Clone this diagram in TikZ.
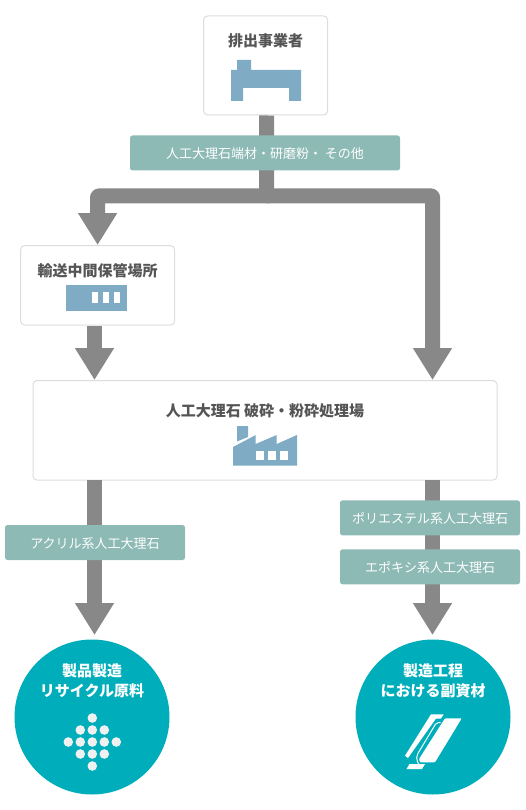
\documentclass[tikz,border=0pt]{standalone}
\usepackage{fontspec}
\usepackage{xcolor}
\usetikzlibrary{positioning,calc,arrows.meta}

\newfontfamily\cjk{Noto Sans CJK JP}
\definecolor{flowgray}{HTML}{888888}
\definecolor{tagteal}{HTML}{8DBAB5}
\definecolor{iconblue}{HTML}{7FACC4}
\definecolor{endteal}{HTML}{00AEBB}
\definecolor{titlegray}{HTML}{555555}
\definecolor{boxline}{HTML}{DDDDDD}
\definecolor{dotwhite}{HTML}{F0F0F0}

\begin{document}
\begin{tikzpicture}[
    x=1pt, y=-1pt,
    box/.style={draw=boxline, line width=1pt, fill=white, rounded corners=4pt, inner sep=0pt},
    tag/.style={fill=tagteal, rounded corners=2.5pt, inner sep=0pt, minimum width=180pt, minimum height=35pt,
      text height=13pt, text depth=1.6pt, text=white, font=\cjk\fontsize{13}{16}\selectfont},
    title/.style={inner sep=0pt, text=titlegray, font=\cjk\bfseries\fontsize{15}{20}\selectfont},
    endpoint/.style={circle, fill=endteal, minimum size=155pt, inner sep=0pt},
    endtitle/.style={inner sep=0pt, align=center, text=white, font=\cjk\bfseries\fontsize{15}{20}\selectfont},
    flow/.style={draw=flowgray, line width=15pt, rounded corners=1pt, line join=round,
      -{Triangle[length=32pt,width=37pt,fill=flowgray]}},
    trunk/.style={draw=flowgray, line width=15pt}
  ]
    \useasboundingbox (0,0) rectangle (525,810);

    \node[box, minimum width=124pt, minimum height=99pt] (source) at (265.6,65.5) {};
    \node[box, minimum width=154pt, minimum height=79.5pt] (storage) at (97.6,285.3) {};
    \node[box, minimum width=464pt, minimum height=99.5pt] (plant) at (265,430.3) {};
    \node[endpoint] (recycle) at (92,717) {};
    \node[endpoint] (byproduct) at (433,717) {};

    \coordinate (split) at (266.5,196);
    \coordinate (plantin) at (432.5,380);
    \coordinate (plantleft) at (94.5,380);
    \coordinate (plantout) at (94.5,480);
    \coordinate (plantright) at (432.5,480);
    \coordinate (recyclein) at (94.5,635);
    \coordinate (byproductin) at (432.5,635);

    \draw[trunk] ([xshift=1pt]source.south) -- (split);
    \draw[flow] ([xshift=2pt]split) -| (storage.north);
    \draw[flow] (split) -| (plantin);
    \draw[flow] ([xshift=-3.1pt]storage.south) -- (plantleft);
    \draw[flow] (plantout) -- (recyclein);
    \draw[flow] (plantright) -- (byproductin);

    \node[tag, minimum width=270pt] (scrap) at (265,153) {人工大理石端材・研磨粉・ その他};
    \node[tag] (acrylic) at (95,542.5) {アクリル系人工大理石};
    \node[tag] (polyester) at (430,517.8) {ポリエステル系人工大理石};
    \node[tag] (epoxy) at (430,566.8) {エポキシ系人工大理石};

    \node[title] (sourcetitle) at (265.6,40.8) {排出事業者};
    \node[title] (storagetitle) at (97.6,270.3) {輸送中間保管場所};
    \node[title] (planttitle) at (265,410.8) {人工大理石 破砕・粉砕処理場};
    \node[endtitle] (recycletitle) at (92,680.5) {製品製造\\リサイクル原料};
    \node[endtitle] (byproducttitle) at (433,680.5) {製造工程\\における副資材};

    % bed shape under the first box
    \fill[iconblue] (237,60) -- (251,60) -- (251,70) -- (301,70) -- (301,101) -- (289,101) -- (289,88)
      -- (243,88) -- (243,101) -- (231,101) -- (231,70) -- (237,70) -- cycle;

    % warehouse
    \fill[iconblue] (66,285) rectangle (127,311);
    \foreach \wx in {92,103,114}
      \fill[white] (\wx,292) rectangle (\wx+6,303);

    % factory
    \fill[iconblue] (237,426) -- (248,426) -- (248,437) -- (237,441.5) -- cycle;
    \fill[iconblue] (233,447) -- (255.7,435) -- (255.7,444) -- (276.7,435) -- (276.7,444) -- (297,435)
      -- (297,465.7) -- (233,465.7) -- cycle;
    \foreach \wx in {256,268,280}
      \fill[white] (\wx,451.3) rectangle (\wx+7.5,459.7);

    % dots
    \foreach \dx/\dy in {0/-24,-12/-12,0/-12,12/-12,-24/0,-12/0,0/0,12/0,24/0,-12/12,0/12,12/12,0/24}
      \fill[dotwhite] (92.3+\dx,742+\dy) circle (4.8pt);

    % sheets
    \fill[white] (431,714.3) -- (443.7,714.3) -- (441,718.5) -- (436,718.5) -- (408,758) -- (405,755.7) -- cycle;
    \draw[white, line width=1pt, rounded corners=2pt] (440.5,722.5) -- (436.5,722.5) -- (417,755) -- (416.5,760) -- (419,764.5);
    \fill[white, rounded corners=1pt] (445,718.3) -- (461.7,718.3) -- (435,762.3) -- (420,762.3) -- (419,759) -- cycle;
    \fill[white] (406.5,769) -- (409.5,764) -- (425,764) -- (422,769) -- cycle;
  \end{tikzpicture}
\end{document}
